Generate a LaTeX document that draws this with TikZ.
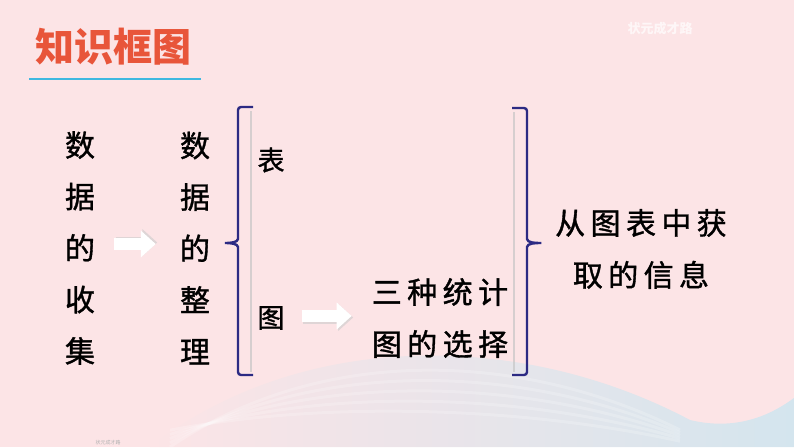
\documentclass[tikz,border=0pt]{standalone}
\usepackage{xcolor}
\usepackage{fontspec}
\usepackage{tikz}
\usetikzlibrary{positioning, arrows.meta}
\newfontfamily\cjk[FakeBold=1.2]{Noto Sans CJK SC}
\newfontfamily\cjkthin{Noto Sans CJK SC}
\newfontfamily\cjkwide[LetterSpace=18,FakeBold=1.2]{Noto Sans CJK SC}
\definecolor{bg_pink}{HTML}{FCE4E6}
\definecolor{wave_blue}{HTML}{D4E5EE}
\definecolor{title_red}{HTML}{E8553A}
\definecolor{line_cyan}{HTML}{3FB8E0}
\definecolor{brace_navy}{HTML}{2C2A83}
\tikzset{
    title_style/.style={
        inner sep=0pt,
        text=title_red,
        font=\cjkthin\bfseries\fontsize{39}{39}\selectfont
    },
    vcol_style/.style={
        inner sep=0pt,
        align=center,
        font=\cjk\fontsize{30}{51.5}\selectfont
    },
    item_style/.style={
        inner sep=0pt,
        font=\cjk\fontsize{27}{27}\selectfont
    },
    text_style/.style={
        inner sep=0pt,
        align=center,
        font=\cjkwide\fontsize{30}{52}\selectfont
    },
    block_arrow/.style={
        draw=white,
        line width=12pt,
        -{Triangle[length=15pt,width=26pt]}
    },
    arrow_shadow/.style={
        draw=gray!40,
        opacity=0.6,
        line width=12pt,
        -{Triangle[length=15pt,width=26pt]}
    },
    brace_style/.style={
        draw=brace_navy,
        line width=2.4pt,
        rounded corners=3pt
    },
    shadow_style/.style={
        draw=gray!45,
        opacity=0.7,
        line width=2.5pt
    }
}

\begin{document}
\begin{tikzpicture}[x={(1pt,0)}, y={(0,-1pt)}]
    % 1. 背景
    \useasboundingbox (0,0) rectangle (794,447);
    \fill[bg_pink] (0,0) rectangle (794,447);
    \shade[left color=bg_pink, right color=wave_blue]
        (150,447) .. controls (300,330) and (520,330) .. (690,420)
        .. controls (740,432) and (775,412) .. (794,398) -- (794,447) -- cycle;
    \foreach \dy in {0,14,28,42,56}
        \draw[white, opacity=0.2, line width=3pt]
            (170,447-\dy*0.3) .. controls (320,345+\dy) and (520,350+\dy) .. (680,430+\dy*0.2);

    % 2. 标题
    \node[title_style] (title) at (113,47) {知识框图};
    \draw[line_cyan, line width=2.2pt] (29,79) -- (201,79);
    \node[text=white, opacity=0.7, font=\cjkthin\bfseries\fontsize{13}{13}\selectfont] (mark_top) at (660,29) {状元成才路};
    \node[text=gray!60, font=\cjkthin\fontsize{5}{5}\selectfont] (mark_bottom) at (108,443) {状元成才路};

    % 3. 定义节点位置
    \node[vcol_style] (collect) at (80,248) {数\\据\\的\\收\\集};
    \node[vcol_style] (sort) at (195,248) {数\\据\\的\\整\\理};
    \node[item_style] (biao) at (271,160) {表};
    \node[item_style] (tu) at (271,318) {图};
    \node[text_style] (choice) at (440,318) {三种统计\\图的选择};
    \node[text_style] (info) at (641,249) {从图表中获\\取的信息};

    % 4. 括号
    \draw[shadow_style] (251,111) -- (251,372);
    \draw[brace_style] (253,107) -- (238,107) -- (238,236)
        to[out=-90,in=0] (223,243) to[out=0,in=90] (238,250)
        -- (238,375) -- (253,375);
    \draw[shadow_style] (514,112) -- (514,372);
    \draw[brace_style] (512,108) -- (527,108) -- (527,236)
        to[out=-90,in=180] (543,243) to[out=180,in=90] (527,250)
        -- (527,375) -- (512,375);

    % 5. 绘制箭头
    \draw[arrow_shadow, shorten <=19pt, shorten >=24pt]
        ([xshift=1.5pt,yshift=5.5pt]collect.east) -- ([xshift=1.5pt,yshift=5.5pt]sort.west);
    \draw[block_arrow, shorten <=19pt, shorten >=24pt]
        ([yshift=4pt]collect.east) -- ([yshift=4pt]sort.west);
    \draw[arrow_shadow, shorten <=17pt, shorten >=20pt]
        ([xshift=1.5pt,yshift=0.5pt]tu.east) -- ([xshift=1.5pt,yshift=0.5pt]tu.east -| choice.west);
    \draw[block_arrow, shorten <=17pt, shorten >=20pt]
        ([yshift=2pt]tu.east) -- ([yshift=2pt]tu.east -| choice.west);
\end{tikzpicture}
\end{document}
